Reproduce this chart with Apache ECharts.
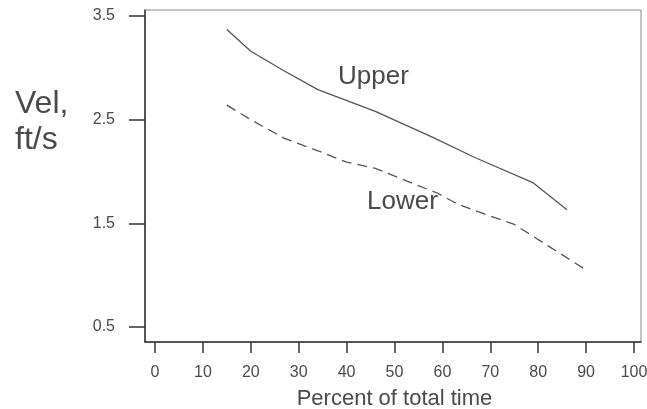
<!DOCTYPE html>
<html>
<head>
<meta charset="utf-8">
<script src="https://cdn.jsdelivr.net/npm/echarts@6/dist/echarts.min.js"></script>
<style>
html,body{margin:0;padding:0;background:#fff;}
#chart{width:647px;height:409px;}
</style>
</head>
<body>
<div id="chart"></div>
<script>
// Data
var upperX = [15, 20, 27, 34, 46, 58, 67, 79, 86];
var upperY = [3.37, 3.16, 2.97, 2.79, 2.58, 2.33, 2.13, 1.89, 1.63];
var lowerX = [15, 20, 27, 34, 40, 46, 59, 63, 67, 75, 90];
var lowerY = [2.64, 2.50, 2.32, 2.20, 2.09, 2.03, 1.79, 1.69, 1.62, 1.49, 1.05];
var xTicks = [0, 100, 10];
var yTicks = [0.5, 3.5, 1];
var xTitle = 'Percent of total time';
var yTitle = 'Vel,\nft/s';
var upperName = 'Upper';
var lowerName = 'Lower';

function pairs(xs, ys) { return xs.map(function (x, i) { return [x, ys[i]]; }); }

var chart = echarts.init(document.getElementById('chart'), null, {renderer: 'canvas'});
var font = 'Liberation Sans, Arial, sans-serif';
var txt = '#4a4a4a';
var hidden = {axisLine: {show: false}, axisTick: {show: false}, axisLabel: {show: false}, splitLine: {show: false}};
function ext(a, b) { return Object.assign({}, a, b); }
function g(o) { return Object.assign({containLabel: false, outerBoundsMode: 'none'}, o); }

chart.setOption({
  animation: false,
  backgroundColor: '#fff',
  grid: [
    // 0: data area
    g({left: 155, right: 13, top: 16, bottom: 82}),
    // 1: frame box
    g({left: 145, right: 6, top: 10, bottom: 67, show: true, borderColor: '#888', borderWidth: 1, backgroundColor: 'transparent'}),
    // 2: y ticks on box left edge
    g({left: 145, right: 13, top: 16, bottom: 82}),
    // 3: x ticks on box bottom edge
    g({left: 155, right: 13, top: 16, bottom: 67})
  ],
  xAxis: [
    ext(hidden, {type: 'value', gridIndex: 0, min: xTicks[0], max: xTicks[1], interval: xTicks[2]}),
    ext(hidden, {type: 'value', gridIndex: 1, min: 0, max: 1,
      axisLine: {show: true, onZero: false, lineStyle: {color: '#333', width: 1.5}}}),
    ext(hidden, {type: 'value', gridIndex: 2, min: 0, max: 1}),
    {
      type: 'value', gridIndex: 3, min: xTicks[0], max: xTicks[1], interval: xTicks[2],
      axisLine: {show: false, onZero: false},
      axisTick: {show: true, length: 11, lineStyle: {color: '#333', width: 1.5}},
      axisLabel: {color: txt, fontSize: 16, fontFamily: font, margin: 23},
      splitLine: {show: false},
      name: xTitle, nameLocation: 'middle', nameGap: 46, nameMoveOverlap: false,
      nameTextStyle: {color: txt, fontSize: 22, fontFamily: font}
    }
  ],
  yAxis: [
    ext(hidden, {type: 'value', gridIndex: 0, min: yTicks[0], max: yTicks[1], interval: yTicks[2]}),
    ext(hidden, {type: 'value', gridIndex: 1, min: 0, max: 1,
      axisLine: {show: true, onZero: false, lineStyle: {color: '#333', width: 1.5}}}),
    {
      type: 'value', gridIndex: 2, min: yTicks[0], max: yTicks[1], interval: yTicks[2],
      axisLine: {show: false, onZero: false},
      axisTick: {show: true, length: 16, lineStyle: {color: '#333', width: 1.5}},
      axisLabel: {color: txt, fontSize: 16, fontFamily: font, margin: 30,
        formatter: function (v) { return v.toFixed(1); }},
      splitLine: {show: false}
    },
    ext(hidden, {type: 'value', gridIndex: 3, min: 0, max: 1})
  ],
  graphic: [
    {type: 'text', left: 15, top: 86, style: {text: yTitle, fill: txt, font: '32px ' + font, lineHeight: 36}},
    {type: 'text', left: 338, top: 64, style: {text: upperName, fill: txt, font: '26px ' + font}},
    {type: 'text', left: 367, top: 189, style: {text: lowerName, fill: txt, font: '26px ' + font}}
  ],
  series: [
    {
      type: 'line', xAxisIndex: 0, yAxisIndex: 0, data: pairs(upperX, upperY),
      showSymbol: false, symbol: 'none', lineStyle: {color: '#555', width: 1.3, type: 'solid'}
    },
    {
      type: 'line', xAxisIndex: 0, yAxisIndex: 0, data: pairs(lowerX, lowerY),
      showSymbol: false, symbol: 'none', lineStyle: {color: '#555', width: 1.3, type: [10, 6]}
    }
  ]
});
</script>
</body>
</html>
